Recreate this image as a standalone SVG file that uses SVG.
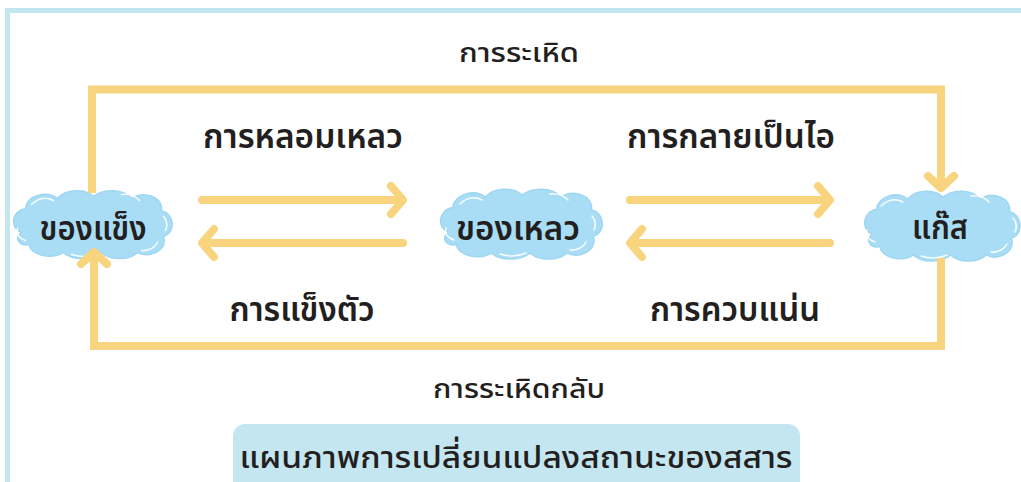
<svg xmlns="http://www.w3.org/2000/svg" width="1021" height="482" viewBox="0 0 1021 482">
<style>
.frame{stroke:#c4e6f0;stroke-width:5;fill:none}
.loop{stroke:#f8d47e;stroke-width:8;fill:none;stroke-linejoin:miter;stroke-linecap:butt}
.arr{stroke:#f8d47e;stroke-width:8;fill:none;stroke-linecap:round;stroke-linejoin:round}
.cloud{fill:#a9ddf6;stroke:#9fd6f2;stroke-width:1.5}
.hl{fill:none;stroke:#ffffff;stroke-width:1.6;stroke-linecap:round;opacity:0.9}
.t{font-family:"Noto Sans Thai","Noto Sans","Liberation Sans",sans-serif;fill:#231f20;text-anchor:middle}
.node{font-size:33px;font-weight:600}
.lab{font-size:33px;font-weight:600}
.small{font-size:27px;font-weight:500}
.title{font-size:31px;font-weight:500}
</style>
<defs>
<path id="cloudShape" d="M -70,8 C -82,4 -80,-14 -66,-16 C -64,-30 -44,-34 -34,-26 C -26,-36 -6,-36 2,-28 C 12,-36 32,-36 40,-26 C 52,-34 72,-28 70,-14 C 84,-10 84,8 72,12 C 76,26 58,34 46,28 C 38,36 18,36 10,28 C 0,36 -20,36 -28,28 C -40,36 -62,30 -62,20 C -72,22 -78,14 -70,8 Z"/>
<g id="cloudHL">
<path class="hl" d="M -60,-20 C -54,-26 -46,-28 -38,-24"/>
<path class="hl" d="M 30,-30 C 38,-31 44,-28 48,-24"/>
<path class="hl" d="M 72,-8 C 76,-4 76,2 74,6"/>
<path class="hl" d="M -74,4 C -76,10 -72,14 -66,16"/>
<path class="hl" d="M -20,30 C -10,33 0,32 6,29"/>
<path class="hl" d="M 50,26 C 58,27 64,22 66,18"/>
</g>
</defs>
<g id="frame">
<line class="frame" x1="5" y1="10.5" x2="1021" y2="10.5"/>
<line class="frame" x1="7.5" y1="8" x2="7.5" y2="482"/>
</g>
<g id="solid">
<use href="#cloudShape" class="cloud" transform="translate(91.5,224.5)"/>
<use href="#cloudHL" transform="translate(91.5,224.5)"/>
<text class="t node" x="93" y="240" textLength="107" lengthAdjust="spacingAndGlyphs">ของแข็ง</text>
</g>
<g id="liquid">
<use href="#cloudShape" class="cloud" transform="translate(520,224) scale(1.02,1.03)"/>
<use href="#cloudHL" transform="translate(520,224)"/>
<text class="t node" x="518" y="240" textLength="124" lengthAdjust="spacingAndGlyphs">ของเหลว</text>
</g>
<g id="gas">
<use href="#cloudShape" class="cloud" transform="translate(941,226) scale(0.98,1.03)"/>
<use href="#cloudHL" transform="translate(941,226)"/>
<text class="t node" x="940" y="239" textLength="56" lengthAdjust="spacingAndGlyphs">แก๊ส</text>
</g>
<g id="connectors">
<polyline class="loop" points="92,193 92,89.5 941,89.5 941,187"/>
<polyline class="arr" points="928,176 941,188 954,176"/>
<polyline class="loop" points="94,253 94,346 941,346 941,258"/>
<polyline class="arr" points="81,264 94,252 107,264"/>
<line class="arr" x1="202" y1="200" x2="402" y2="200"/>
<polyline class="arr" points="391,186 403,200 391,214"/>
<line class="arr" x1="203" y1="243" x2="403" y2="243"/>
<polyline class="arr" points="214,229 202,243 214,257"/>
<line class="arr" x1="630" y1="200" x2="829" y2="200"/>
<polyline class="arr" points="818,186 830,200 818,214"/>
<line class="arr" x1="631" y1="243" x2="830" y2="243"/>
<polyline class="arr" points="642,229 630,243 642,257"/>
</g>
<g id="labels">
<text class="t small" x="519" y="62" textLength="120" lengthAdjust="spacingAndGlyphs">การระเหิด</text>
<text class="t lab" x="303" y="148" textLength="200" lengthAdjust="spacingAndGlyphs">การหลอมเหลว</text>
<text class="t lab" x="731" y="148" textLength="208" lengthAdjust="spacingAndGlyphs">การกลายเป็นไอ</text>
<text class="t lab" x="302" y="321" textLength="145" lengthAdjust="spacingAndGlyphs">การแข็งตัว</text>
<text class="t lab" x="735" y="321" textLength="170" lengthAdjust="spacingAndGlyphs">การควบแน่น</text>
<text class="t small" x="519" y="398" textLength="172" lengthAdjust="spacingAndGlyphs">การระเหิดกลับ</text>
</g>
<g id="title">
<rect x="233" y="424" width="567" height="80" rx="12" fill="#c4e6f0"/>
<text class="t title" x="516" y="468" textLength="553" lengthAdjust="spacingAndGlyphs">แผนภาพการเปลี่ยนแปลงสถานะของสสาร</text>
</g>
</svg>
